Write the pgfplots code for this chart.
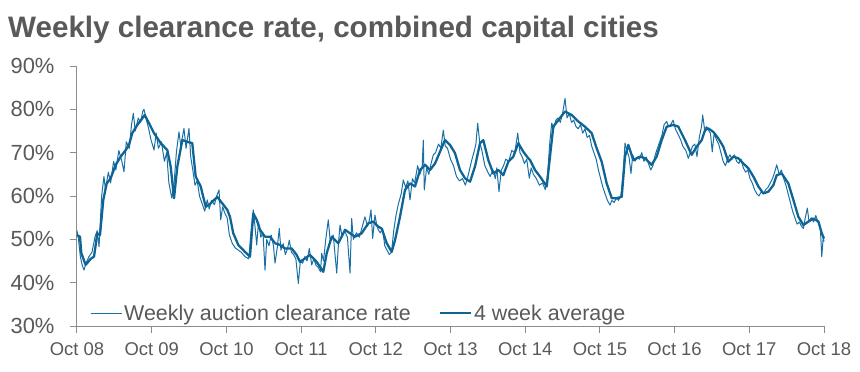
\documentclass[border=0pt]{standalone}
\usepackage{fontspec}
\setmainfont{Liberation Sans}
\usepackage{pgfplots}
\pgfplotsset{compat=1.18}
\definecolor{txt}{HTML}{595959}
\definecolor{axc}{HTML}{8C8C8C}
\definecolor{wk}{HTML}{1A70A4}
\definecolor{avg}{HTML}{0F6496}
\pgfplotstableread{
t y
0.000 52.0
0.020 50.0
0.045 46.0
0.070 44.0
0.094 42.9
0.120 44.5
0.160 46.0
0.200 47.0
0.240 50.5
0.270 52.0
0.295 48.3
0.330 60.0
0.361 64.5
0.380 61.5
0.420 65.5
0.450 63.0
0.490 68.0
0.520 66.0
0.560 70.5
0.600 68.0
0.629 65.6
0.660 72.5
0.700 71.0
0.730 76.5
0.754 79.1
0.780 75.0
0.820 78.0
0.850 77.0
0.880 79.5
0.897 80.0
0.930 77.5
0.960 75.5
0.990 73.0
1.031 70.6
1.060 74.5
1.090 71.0
1.130 72.5
1.170 68.0
1.200 70.0
1.230 63.0
1.270 59.5
1.300 63.0
1.330 70.0
1.365 74.8
1.390 71.5
1.432 75.6
1.460 71.0
1.499 75.6
1.522 69.1
1.550 66.0
1.580 62.5
1.610 63.5
1.640 60.0
1.680 58.0
1.710 56.5
1.744 59.1
1.770 57.0
1.800 59.0
1.840 58.0
1.870 60.0
1.901 61.4
1.924 54.5
1.950 57.5
1.980 56.0
2.010 55.0
2.040 51.0
2.080 49.0
2.120 48.0
2.160 47.5
2.200 47.0
2.250 46.0
2.300 45.5
2.330 52.0
2.360 56.8
2.380 53.5
2.406 48.7
2.430 54.0
2.460 50.5
2.490 51.5
2.517 42.9
2.540 50.0
2.570 48.5
2.600 51.0
2.630 48.5
2.651 44.5
2.680 48.0
2.708 52.5
2.730 47.5
2.760 49.0
2.790 46.5
2.820 48.0
2.842 49.8
2.870 47.0
2.900 46.5
2.930 45.5
2.963 39.8
2.990 45.0
3.020 44.5
3.050 46.0
3.080 45.0
3.110 47.9
3.142 44.1
3.170 45.5
3.200 44.0
3.230 43.5
3.260 42.5
3.276 46.8
3.300 45.0
3.330 50.0
3.364 54.5
3.390 49.5
3.430 51.0
3.477 42.2
3.500 49.0
3.521 53.3
3.550 50.5
3.580 52.0
3.620 50.5
3.655 42.2
3.677 54.8
3.700 50.0
3.740 51.5
3.780 50.5
3.820 53.0
3.855 55.2
3.890 53.0
3.915 54.5
3.936 56.8
3.958 50.2
3.989 55.6
4.010 53.5
4.033 52.2
4.060 51.5
4.090 52.5
4.120 48.5
4.150 47.5
4.180 46.5
4.210 47.0
4.240 52.0
4.270 55.5
4.300 58.0
4.340 60.5
4.368 63.7
4.400 62.0
4.430 63.5
4.458 59.1
4.490 64.0
4.520 63.0
4.560 67.0
4.590 65.0
4.620 66.5
4.636 72.9
4.649 61.4
4.680 66.5
4.710 65.0
4.740 67.5
4.770 69.5
4.800 70.0
4.840 72.0
4.870 71.0
4.904 75.2
4.930 71.5
4.960 71.0
5.000 68.5
5.040 67.0
5.080 64.5
5.120 63.5
5.160 64.0
5.200 62.5
5.240 65.0
5.280 68.0
5.320 70.5
5.340 72.0
5.364 76.8
5.390 72.5
5.420 70.5
5.460 67.0
5.500 65.5
5.530 64.5
5.570 66.0
5.600 64.0
5.620 66.5
5.649 61.0
5.680 66.0
5.710 67.0
5.740 68.5
5.780 68.0
5.820 70.5
5.860 70.0
5.900 74.5
5.930 70.0
5.960 69.0
5.990 67.5
6.020 68.5
6.055 64.1
6.080 66.5
6.110 65.0
6.150 64.0
6.190 62.5
6.230 63.0
6.270 61.5
6.300 65.0
6.330 72.5
6.355 76.8
6.380 75.5
6.410 77.5
6.440 78.0
6.470 77.0
6.500 79.0
6.533 82.5
6.560 78.0
6.590 79.0
6.620 77.0
6.650 77.5
6.680 76.0
6.710 75.5
6.740 76.5
6.770 74.5
6.800 75.5
6.830 73.5
6.860 74.0
6.890 71.5
6.920 70.0
6.950 68.5
6.980 66.0
7.010 64.0
7.040 62.0
7.070 60.5
7.100 59.0
7.135 57.9
7.160 59.0
7.190 58.5
7.220 59.5
7.250 59.0
7.280 60.0
7.310 65.0
7.336 72.2
7.360 70.5
7.390 69.0
7.416 65.2
7.440 69.5
7.470 68.0
7.500 69.0
7.530 68.5
7.560 70.0
7.590 68.0
7.620 69.0
7.650 67.5
7.680 66.0
7.710 67.0
7.740 69.5
7.770 71.0
7.800 72.5
7.830 74.0
7.860 76.5
7.894 77.2
7.920 76.0
7.950 76.5
7.980 77.5
8.010 75.5
8.050 74.1
8.080 73.0
8.110 71.5
8.150 70.5
8.184 68.7
8.210 70.0
8.240 71.5
8.270 72.0
8.300 69.1
8.330 73.5
8.360 76.0
8.376 78.7
8.400 75.5
8.430 76.0
8.460 75.0
8.480 74.5
8.504 70.2
8.530 74.5
8.560 73.0
8.590 72.0
8.620 70.0
8.650 68.0
8.680 67.0
8.710 68.5
8.740 69.5
8.770 68.5
8.800 69.5
8.830 68.0
8.860 67.5
8.890 68.5
8.920 66.5
8.950 65.5
8.980 66.0
9.010 64.0
9.040 63.0
9.070 61.5
9.100 60.5
9.130 60.0
9.160 61.0
9.190 60.5
9.220 61.5
9.250 62.0
9.280 63.0
9.310 64.0
9.340 65.5
9.367 67.2
9.400 65.0
9.430 66.0
9.460 64.0
9.490 62.5
9.520 60.5
9.550 58.5
9.580 56.5
9.610 55.0
9.640 53.5
9.670 54.0
9.700 53.0
9.724 52.5
9.750 55.0
9.777 57.2
9.800 54.0
9.830 55.0
9.860 54.0
9.890 55.5
9.920 54.0
9.950 53.0
9.970 46.0
9.990 50.6
10.000 49.5
}\weekly
\pgfplotstableread{
t y
0.000 51.0
0.040 50.6
0.058 46.8
0.116 44.1
0.183 45.5
0.228 46.0
0.272 51.4
0.308 51.0
0.352 59.1
0.398 62.9
0.451 64.1
0.518 67.2
0.585 69.1
0.652 70.6
0.696 71.8
0.740 74.5
0.807 76.4
0.874 77.9
0.906 78.7
0.964 76.8
1.031 74.5
1.120 72.2
1.209 70.6
1.254 66.8
1.299 59.5
1.343 66.8
1.410 72.9
1.477 72.5
1.543 72.2
1.589 64.5
1.656 62.2
1.723 57.5
1.790 58.3
1.878 59.8
1.945 58.3
2.012 56.8
2.048 55.2
2.092 51.4
2.159 48.7
2.249 47.1
2.316 46.0
2.360 56.0
2.406 54.5
2.450 52.2
2.517 50.6
2.584 50.6
2.651 49.1
2.718 48.7
2.784 47.9
2.874 47.9
2.941 46.4
2.985 44.8
3.052 45.6
3.119 46.4
3.209 44.8
3.297 42.5
3.343 46.8
3.410 50.6
3.498 49.1
3.588 52.2
3.655 51.4
3.722 50.6
3.811 51.4
3.900 53.7
3.967 54.1
4.033 52.9
4.079 52.5
4.146 49.1
4.213 47.1
4.257 49.8
4.324 55.2
4.391 61.4
4.458 62.9
4.525 62.2
4.592 66.0
4.659 67.2
4.726 66.0
4.793 67.5
4.859 70.2
4.926 72.9
4.993 71.8
5.060 69.9
5.127 66.0
5.194 64.1
5.261 63.3
5.328 66.8
5.395 72.2
5.439 72.9
5.506 68.3
5.573 65.2
5.640 66.0
5.707 64.8
5.774 67.9
5.841 69.1
5.908 72.2
5.975 70.2
6.042 68.7
6.064 68.3
6.131 66.0
6.198 64.5
6.288 62.2
6.332 69.1
6.376 76.0
6.443 77.5
6.533 79.5
6.622 78.7
6.711 77.2
6.800 76.0
6.890 74.5
6.957 71.0
7.024 67.9
7.091 62.9
7.158 59.5
7.224 59.5
7.292 59.8
7.336 69.1
7.380 71.8
7.447 68.3
7.537 69.1
7.604 68.7
7.693 67.2
7.760 69.1
7.827 72.9
7.894 76.0
7.983 76.4
8.050 76.0
8.072 75.2
8.139 72.9
8.229 69.5
8.296 71.4
8.363 72.9
8.407 75.2
8.451 75.6
8.518 74.8
8.585 73.3
8.652 71.4
8.719 67.9
8.786 69.1
8.853 68.7
8.920 67.5
8.987 66.4
9.054 64.5
9.121 62.2
9.188 60.6
9.255 61.0
9.322 62.5
9.367 64.8
9.434 65.2
9.523 62.9
9.590 59.1
9.657 55.2
9.724 53.3
9.791 54.1
9.858 54.8
9.925 54.1
9.970 51.4
10.000 50.2
}\avg
\begin{document}
\begin{tikzpicture}
\begin{axis}[name=ax, scale only axis, width=747bp, height=260bp,
  xmin=0, xmax=10, ymin=30, ymax=90,
  axis x line*=bottom, axis y line*=left,
  axis line style={axc, line width=1bp, -},
  xtick={0,1,...,10},
  xticklabels={Oct 08,Oct 09,Oct 10,Oct 11,Oct 12,Oct 13,Oct 14,Oct 15,Oct 16,Oct 17,Oct 18},
  ytick={30,40,...,90},
  yticklabels={30\%,40\%,50\%,60\%,70\%,80\%,90\%},
  tick style={axc, line width=1bp},
  major tick length=7bp, tick align=outside,
  xticklabel style={text=txt, font=\fontsize{18.5}{18.5}\selectfont, yshift=-6bp},
  yticklabel style={text=txt, font=\fontsize{22}{22}\selectfont, xshift=-12bp},
  legend columns=2,
  legend style={at={(rel axis cs:0,0)}, anchor=south west, xshift=10bp, yshift=0bp,
    draw=none, fill=none, text=txt, font=\fontsize{21.5}{21.5}\selectfont,
    /tikz/every even column/.append style={column sep=26bp}},
  legend image code/.code={\path (0bp,0bp) -- (31bp,0bp); \draw[#1] (0bp,0bp) -- (23bp,0bp);},
  clip=false]
\addplot[wk, line width=1bp, line join=round] table[x=t, y=y] {\weekly};
\addlegendentry{Weekly auction clearance rate}
\addplot[avg, line width=2.3bp, line join=round] table[x=t, y=y] {\avg};
\addlegendentry{4 week average}
\end{axis}
\node[anchor=base west, inner sep=0pt, text=txt, font=\bfseries\fontsize{29.7}{29.7}\selectfont]
  at ([xshift=-69bp,yshift=288bp]ax.south west) {Weekly clearance rate, combined capital cities};
\pgfresetboundingbox
\path[use as bounding box] ([xshift=-77bp,yshift=-46bp]ax.south west) rectangle ([xshift=783bp,yshift=326bp]ax.south west);
\end{tikzpicture}
\end{document}
